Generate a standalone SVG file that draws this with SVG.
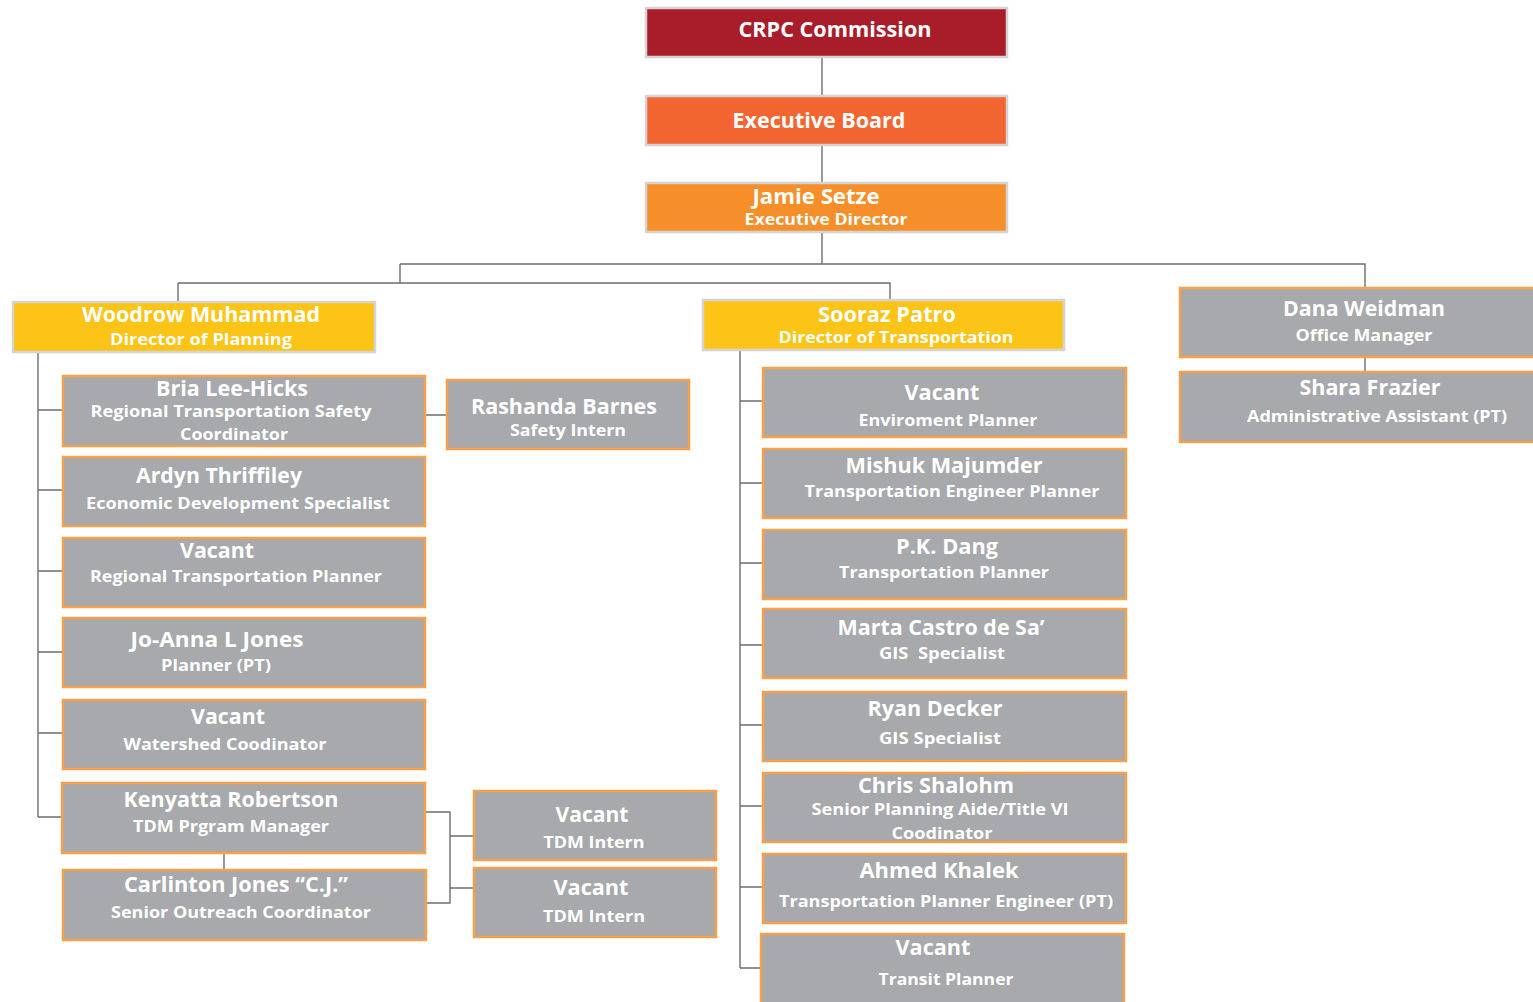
<svg xmlns="http://www.w3.org/2000/svg" width="1533" height="1002" viewBox="0 0 1533 1002">
<style>
.t{font-family:"Open Sans",Lato,"Liberation Sans",sans-serif;font-weight:bold;fill:#fff;text-anchor:middle}
.n{font-size:21px}
.s{font-size:16px}
.g{fill:#a7a9ac;stroke:#f5a04a;stroke-width:2.5}
.top{stroke:#d4d4d4;stroke-width:2.5}
.c{fill:none;stroke:#6d6e71;stroke-width:1.4}
</style>
<rect width="1533" height="1002" fill="#fff"/>
<g id="connectors">
<path class="c" d="M822 57V96M822 145V183M822 232V264M400 264H1365V288M400 264V283M178 283H890V300M178 283V302"/>
<path class="c" d="M38 352V817M38 410H63M38 490H63M38 571H63M38 652H63M38 733H63M38 817H62M425 415H447"/>
<path class="c" d="M224 853V870M425 812H450V903H426M450 836H474M450 888H474"/>
<path class="c" d="M740 350V968M740 401H763M740 483H763M740 563H763M740 645H763M740 725H763M740 806H763M740 887H763M740 968H761"/>
<path class="c" d="M1365 357V372"/>
</g>
<g id="crpc"><rect class="top" x="646" y="8" width="361" height="49" fill="#a91d2b"/><text class="t n" x="835" y="37" textLength="193" lengthAdjust="spacingAndGlyphs">CRPC Commission</text></g>
<g id="exec-board"><rect class="top" x="646" y="96" width="361" height="49" fill="#f26531"/><text class="t n" x="819" y="128" textLength="173" lengthAdjust="spacingAndGlyphs">Executive Board</text></g>
<g id="jamie"><rect class="top" x="646" y="183" width="361" height="49" fill="#f68f29"/><text class="t n" x="816" y="204" textLength="127" lengthAdjust="spacingAndGlyphs">Jamie Setze</text><text class="t s" x="826" y="225" textLength="163" lengthAdjust="spacingAndGlyphs">Executive Director</text></g>
<g id="woodrow"><rect class="top" x="13" y="302" width="362" height="50" fill="#fcc416"/><text class="t n" x="201" y="322" textLength="238" lengthAdjust="spacingAndGlyphs">Woodrow Muhammad</text><text class="t s" x="201" y="345" textLength="182" lengthAdjust="spacingAndGlyphs">Director of Planning</text></g>
<g id="sooraz"><rect class="top" x="703" y="300" width="361" height="50" fill="#fcc416"/><text class="t n" x="887" y="322" textLength="138" lengthAdjust="spacingAndGlyphs">Sooraz Patro</text><text class="t s" x="896" y="343" textLength="235" lengthAdjust="spacingAndGlyphs">Director of Transportation</text></g>
<g id="dana"><rect class="g" x="1180" y="288" width="360" height="69"/><text class="t n" x="1364" y="316" textLength="162" lengthAdjust="spacingAndGlyphs">Dana Weidman</text><text class="t s" x="1364" y="341" textLength="137" lengthAdjust="spacingAndGlyphs">Office Manager</text></g>
<g id="shara"><rect class="g" x="1180" y="372" width="360" height="70"/><text class="t n" x="1370" y="395" textLength="141" lengthAdjust="spacingAndGlyphs">Shara Frazier</text><text class="t s" x="1377" y="422" textLength="260" lengthAdjust="spacingAndGlyphs">Administrative Assistant (PT)</text></g>
<g id="bria"><rect class="g" x="63" y="376" width="362" height="70"/><text class="t n" x="232" y="396" textLength="152" lengthAdjust="spacingAndGlyphs">Bria Lee-Hicks</text><text class="t s" x="231" y="417" textLength="281" lengthAdjust="spacingAndGlyphs">Regional Transportation Safety</text><text class="t s" x="234" y="440" textLength="108" lengthAdjust="spacingAndGlyphs">Coordinator</text></g>
<g id="rashanda"><rect class="g" x="447" y="380" width="242" height="69"/><text class="t n" x="564" y="414" textLength="186" lengthAdjust="spacingAndGlyphs">Rashanda Barnes</text><text class="t s" x="568" y="436" textLength="116" lengthAdjust="spacingAndGlyphs">Safety Intern</text></g>
<g id="ardyn"><rect class="g" x="63" y="457" width="362" height="69"/><text class="t n" x="219" y="483" textLength="166" lengthAdjust="spacingAndGlyphs">Ardyn Thriffiley</text><text class="t s" x="238" y="509" textLength="304" lengthAdjust="spacingAndGlyphs">Economic Development Specialist</text></g>
<g id="vacant-rtp"><rect class="g" x="63" y="538" width="362" height="69"/><text class="t n" x="217" y="558" textLength="74" lengthAdjust="spacingAndGlyphs">Vacant</text><text class="t s" x="236" y="582" textLength="292" lengthAdjust="spacingAndGlyphs">Regional Transportation Planner</text></g>
<g id="joanna"><rect class="g" x="63" y="618" width="362" height="69"/><text class="t n" x="217" y="647" textLength="173" lengthAdjust="spacingAndGlyphs">Jo-Anna L Jones</text><text class="t s" x="216" y="671" textLength="110" lengthAdjust="spacingAndGlyphs">Planner (PT)</text></g>
<g id="vacant-watershed"><rect class="g" x="63" y="700" width="362" height="69"/><text class="t n" x="228" y="724" textLength="74" lengthAdjust="spacingAndGlyphs">Vacant</text><text class="t s" x="225" y="750" textLength="203" lengthAdjust="spacingAndGlyphs">Watershed Coodinator</text></g>
<g id="kenyatta"><rect class="g" x="62" y="783" width="363" height="70"/><text class="t n" x="231" y="807" textLength="215" lengthAdjust="spacingAndGlyphs">Kenyatta Robertson</text><text class="t s" x="231" y="832" textLength="196" lengthAdjust="spacingAndGlyphs">TDM Prgram Manager</text></g>
<g id="carlinton"><rect class="g" x="63" y="870" width="363" height="70"/><text class="t n" x="236" y="892" textLength="224" lengthAdjust="spacingAndGlyphs">Carlinton Jones “C.J.”</text><text class="t s" x="241" y="918" textLength="260" lengthAdjust="spacingAndGlyphs">Senior Outreach Coordinator</text></g>
<g id="tdm-intern-1"><rect class="g" x="474" y="791" width="242" height="69"/><text class="t n" x="592" y="822" textLength="73" lengthAdjust="spacingAndGlyphs">Vacant</text><text class="t s" x="594" y="848" textLength="101" lengthAdjust="spacingAndGlyphs">TDM Intern</text></g>
<g id="tdm-intern-2"><rect class="g" x="474" y="868" width="242" height="69"/><text class="t n" x="591" y="895" textLength="75" lengthAdjust="spacingAndGlyphs">Vacant</text><text class="t s" x="594" y="922" textLength="102" lengthAdjust="spacingAndGlyphs">TDM Intern</text></g>
<g id="vacant-env"><rect class="g" x="763" y="368" width="363" height="69"/><text class="t n" x="942" y="400" textLength="75" lengthAdjust="spacingAndGlyphs">Vacant</text><text class="t s" x="948" y="426" textLength="179" lengthAdjust="spacingAndGlyphs">Enviroment Planner</text></g>
<g id="mishuk"><rect class="g" x="763" y="449" width="363" height="69"/><text class="t n" x="944" y="473" textLength="197" lengthAdjust="spacingAndGlyphs">Mishuk Majumder</text><text class="t s" x="952" y="497" textLength="295" lengthAdjust="spacingAndGlyphs">Transportation Engineer Planner</text></g>
<g id="pkdang"><rect class="g" x="763" y="530" width="363" height="69"/><text class="t n" x="947" y="554" textLength="102" lengthAdjust="spacingAndGlyphs">P.K. Dang</text><text class="t s" x="944" y="578" textLength="210" lengthAdjust="spacingAndGlyphs">Transportation Planner</text></g>
<g id="marta"><rect class="g" x="763" y="609" width="363" height="69"/><text class="t n" x="941" y="635" textLength="207" lengthAdjust="spacingAndGlyphs">Marta Castro de Sa’</text><text class="t s" x="942" y="659" textLength="126" lengthAdjust="spacingAndGlyphs" xml:space="preserve">GIS  Specialist</text></g>
<g id="ryan"><rect class="g" x="763" y="692" width="363" height="69"/><text class="t n" x="935" y="716" textLength="135" lengthAdjust="spacingAndGlyphs">Ryan Decker</text><text class="t s" x="940" y="744" textLength="122" lengthAdjust="spacingAndGlyphs">GIS Specialist</text></g>
<g id="chris"><rect class="g" x="763" y="773" width="363" height="69"/><text class="t n" x="936" y="793" textLength="156" lengthAdjust="spacingAndGlyphs">Chris Shalohm</text><text class="t s" x="940" y="815" textLength="257" lengthAdjust="spacingAndGlyphs">Senior Planning Aide/Title VI</text><text class="t s" x="942" y="839" textLength="101" lengthAdjust="spacingAndGlyphs">Coodinator</text></g>
<g id="ahmed"><rect class="g" x="763" y="854" width="363" height="69"/><text class="t n" x="939" y="878" textLength="159" lengthAdjust="spacingAndGlyphs">Ahmed Khalek</text><text class="t s" x="946" y="907" textLength="334" lengthAdjust="spacingAndGlyphs">Transportation Planner Engineer (PT)</text></g>
<g id="vacant-transit"><rect class="g" x="761" y="934" width="363" height="75"/><text class="t n" x="933" y="955" textLength="75" lengthAdjust="spacingAndGlyphs">Vacant</text><text class="t s" x="946" y="985" textLength="135" lengthAdjust="spacingAndGlyphs">Transit Planner</text></g>
</svg>
